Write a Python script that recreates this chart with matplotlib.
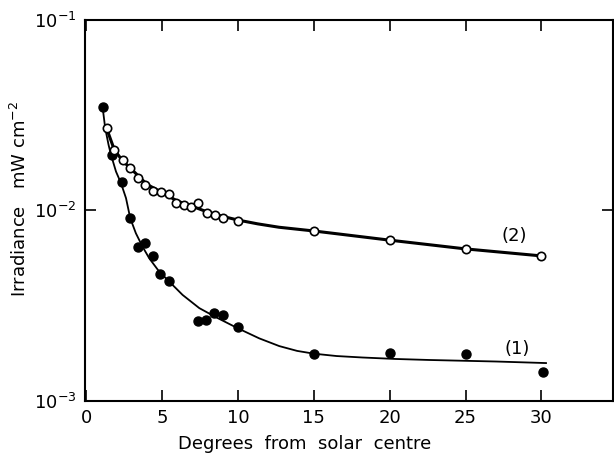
import matplotlib
matplotlib.use("Agg")
import matplotlib.pyplot as plt

# open circles, curve (2)
deg2 = [1.34, 1.85, 2.39, 2.88, 3.38, 3.89, 4.42, 4.92, 5.43, 5.91, 6.42, 6.92, 7.38, 7.95, 8.5, 8.99, 10.0, 15.0, 20.0, 25.0, 30.0]
irr2 = [0.027, 0.0208, 0.0183, 0.0168, 0.01476, 0.0136, 0.0127, 0.01245, 0.0122, 0.0109, 0.0107, 0.0104, 0.0109,
        0.00974, 0.00943, 0.00917, 0.00884, 0.0078, 0.00698, 0.00628, 0.00577]

# filled circles, curve (1)
deg1 = [1.12, 1.69, 2.38, 2.88, 3.38, 3.89, 4.37, 4.86, 5.43, 7.38, 7.89, 8.44, 8.99, 9.97, 15.0, 20.0, 25.0, 30.1]
irr1 = [0.0348, 0.0196, 0.0141, 0.00917, 0.00645, 0.00673, 0.00577, 0.00464, 0.00426, 0.00264, 0.00266,
        0.00291, 0.00283, 0.00243, 0.00177, 0.00178, 0.00177, 0.001425]

# drawn curves
fit1_x = [1.08, 1.25, 1.47, 1.63, 1.96, 2.29, 2.62, 2.9, 3.27, 3.71, 4.15, 4.81, 5.47, 6.35, 7.45, 8.55, 9.97,
          11.4, 12.72, 13.9, 15.0, 16.5, 18.2, 20.4, 22.6, 27.0, 30.3]
fit1_y = [0.0347, 0.027, 0.0221, 0.0196, 0.016, 0.0139, 0.0116, 0.0091, 0.00759, 0.00645, 0.00561, 0.00477,
          0.00423, 0.0036, 0.00307, 0.00275, 0.00241, 0.00213, 0.00194, 0.00183, 0.00177, 0.00172, 0.00169,
          0.00166, 0.00164, 0.00161, 0.00158]

fit2_x = [1.34, 1.85, 2.4, 3.0, 4.0, 5.0, 6.0, 7.0, 8.0, 9.0, 10.0, 11.3, 12.7, 15.0, 20.0, 25.0, 30.0]
fit2_y = [0.027, 0.0208, 0.0182, 0.0164, 0.0137, 0.0124, 0.0112, 0.0105, 0.0098, 0.0093, 0.0089, 0.0085,
          0.00816, 0.0078, 0.00698, 0.00628, 0.00577]

plt.rcParams['font.family'] = 'DejaVu Sans'
fig = plt.figure(figsize=(6.14, 4.53), dpi=100)
ax = fig.add_axes([0.138, 0.115, 0.86, 0.841])

ax.plot(fit1_x, fit1_y, color='black', linewidth=1.3, zorder=2)
ax.plot(fit2_x, fit2_y, color='black', linewidth=2.2, zorder=2)
ax.plot(deg1, irr1, 'o', color='black', markersize=6.5, zorder=3)
ax.plot(deg2, irr2, 'o', markerfacecolor='white', markeredgecolor='black', markeredgewidth=1.2,
        markersize=6, zorder=4)

ax.text(28.2, 0.0066, '(2)', fontsize=13, ha='center', va='bottom')
ax.text(28.4, 0.00168, '(1)', fontsize=13, ha='center', va='bottom')

ax.set_yscale('log')
ax.set_ylim(1e-3, 1e-1)
ax.set_xlim(-0.1, 34.7)
ax.set_xticks([0, 5, 10, 15, 20, 25, 30])
ax.set_yticks([1e-3, 1e-2, 1e-1])
ax.minorticks_off()
ax.tick_params(direction='in', length=8, width=1.2, labelsize=13, top=True, right=True, pad=6)
for s in ax.spines.values():
    s.set_linewidth(1.5)

ax.set_xlabel('Degrees  from  solar  centre', fontsize=13, labelpad=4)
ax.xaxis.set_label_coords(0.417, -0.09)
ax.set_ylabel('Irradiance   mW cm$^{-2}$', fontsize=13)
ax.yaxis.set_label_coords(-0.104, 0.53)

fig.savefig('out.png', dpi=100)
